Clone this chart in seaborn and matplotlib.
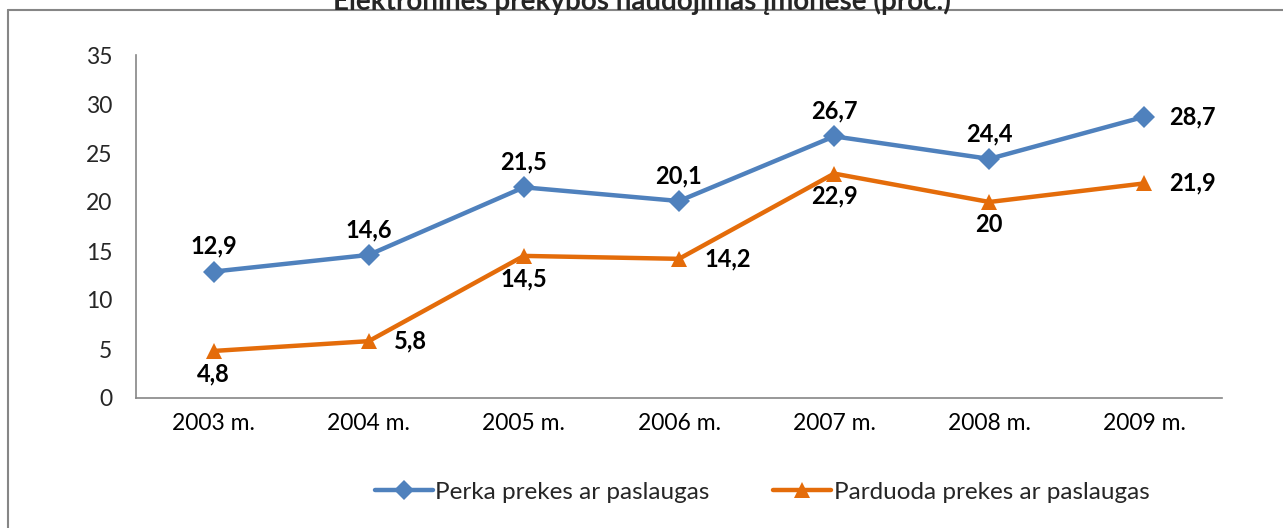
import matplotlib
matplotlib.use("Agg")
import matplotlib.pyplot as plt
import seaborn as sns
import pandas as pd
import numpy as np
from matplotlib.lines import Line2D

years = ["2003 m.", "2004 m.", "2005 m.", "2006 m.", "2007 m.", "2008 m.", "2009 m."]
perka = [12.9, 14.6, 21.5, 20.1, 26.7, 24.4, 28.7]
parduoda = [4.8, 5.8, 14.5, 14.2, 22.9, 20.0, 21.9]
perka_labels = ["12,9", "14,6", "21,5", "20,1", "26,7", "24,4", "28,7"]
parduoda_labels = ["4,8", "5,8", "14,5", "14,2", "22,9", "20", "21,9"]
series_names = ["Perka prekes ar paslaugas", "Parduoda prekes ar paslaugas"]
title = "Elektroninės prekybos naudojimas įmonėse (proc.)"

sns.set_theme(style="white")
plt.rcParams['font.family'] = ['Lato', 'DejaVu Sans']

blue = "#4F81BD"
orange = "#E46C0A"

df = pd.DataFrame({
    "x": list(range(len(years))) * 2,
    "value": perka + parduoda,
    "series": [series_names[0]] * len(years) + [series_names[1]] * len(years),
})

fig = plt.figure(figsize=(12.83, 5.28), dpi=100)
ax = fig.add_axes([136/1283, 1 - 398/528, (1222-136)/1283, (398-55)/528])

sns.lineplot(data=df, x="x", y="value", hue="series", style="series",
             palette={series_names[0]: blue, series_names[1]: orange},
             markers={series_names[0]: "D", series_names[1]: "^"},
             dashes=False, linewidth=3.2, markersize=11, markeredgewidth=0,
             ax=ax, legend=False)

fs = 16.5
ax.set_xlim(-0.5, len(years) - 0.5)
ax.set_ylim(0, 35)
ax.set_yticks(range(0, 36, 5))
ax.set_xticks(range(len(years)))
ax.set_xticklabels(years)
ax.set_xticks(np.arange(-0.5, len(years), 1.0), minor=True)
ax.tick_params(axis="x", which="major", length=0, pad=11, labelsize=fs, colors="black")
ax.tick_params(axis="x", which="minor", length=6, width=1, color="#868686", direction="out")
ax.tick_params(axis="y", length=6, width=1, color="#868686", direction="out", pad=11, labelsize=fs)
ax.set_xlabel("")
ax.set_ylabel("")
for s in ["top", "right"]:
    ax.spines[s].set_visible(False)
for s in ["left", "bottom"]:
    ax.spines[s].set_color("#868686")
    ax.spines[s].set_linewidth(1.2)

lab_kw = dict(fontsize=17, fontweight="bold", color="black")
# blue labels
for i, (v, t) in enumerate(zip(perka, perka_labels)):
    if i == len(perka) - 1:
        ax.annotate(t, (i, v), xytext=(18, 0), textcoords="offset points", ha="left", va="center", **lab_kw)
    else:
        ax.annotate(t, (i, v), xytext=(0, 10), textcoords="offset points", ha="center", va="bottom", **lab_kw)
# orange labels
right_idx = {1, 3, 6}
for i, (v, t) in enumerate(zip(parduoda, parduoda_labels)):
    if i in right_idx:
        ax.annotate(t, (i, v), xytext=(18, 0), textcoords="offset points", ha="left", va="center", **lab_kw)
    else:
        ax.annotate(t, (i, v), xytext=(0, -8), textcoords="offset points", ha="center", va="top", **lab_kw)

handles = [Line2D([], [], color=blue, lw=3.2, marker="D", markersize=10, markeredgewidth=0),
           Line2D([], [], color=orange, lw=3.2, marker="^", markersize=11, markeredgewidth=0)]
fig.legend(handles, series_names, loc="center", bbox_to_anchor=(762/1283, 1 - 492/528),
           ncol=2, frameon=False, fontsize=17.5, handlelength=2.4, handletextpad=0.1,
           columnspacing=2.6)

fig.text(0.5, 1 - 1/528, title, ha="center", va="center", fontsize=20, fontweight="bold")
fig.add_artist(Line2D([8/1283, 8/1283], [0, 1 - 10/528], transform=fig.transFigure, color="#868686", lw=1.5))
fig.add_artist(Line2D([8/1283, 1], [1 - 10/528, 1 - 10/528], transform=fig.transFigure, color="#868686", lw=1.5))

fig.savefig("out.png", dpi=100)
